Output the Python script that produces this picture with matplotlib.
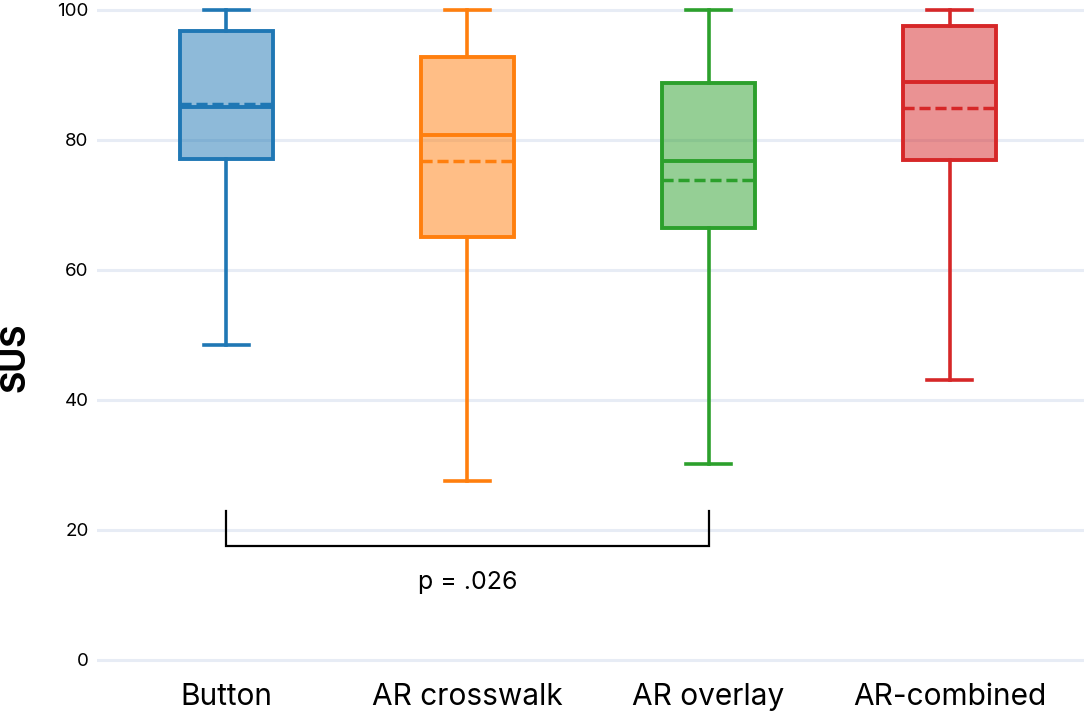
import matplotlib
matplotlib.use("Agg")
import matplotlib.pyplot as plt
from matplotlib.colors import to_rgba
from matplotlib.transforms import Affine2D

categories = ["Button", "AR crosswalk", "AR overlay", "AR-combined"]
lower = [48.5, 27.5, 30.2, 43.1]
q1 = [77.1, 65.1, 66.5, 76.9]
median = [85.1, 80.8, 76.8, 88.9]
q3 = [96.8, 92.7, 88.7, 97.6]
upper = [100, 100, 100, 100]
means = [85.5, 76.8, 73.8, 84.9]
colors = ["#1f77b4", "#ff7f0e", "#2ca02c", "#d62728"]
yticks = [0, 20, 40, 60, 80, 100]
sig_pair = (0, 2)
sig_text = "p = .026"
sig_top, sig_bottom = 23.0, 17.5

plt.rcParams['font.family'] = ['Inter', 'DejaVu Sans']

W, H = 1084, 714
fig = plt.figure(figsize=(W / 100, H / 100), dpi=100)
left_px, right_px = 97, 1084
top_px, bot_px = 0.25, 676.25
ax = fig.add_axes([left_px / W, 1 - bot_px / H, (right_px - left_px) / W, (bot_px - top_px) / H])
ax.set_xlim(-0.535, 3.556)
ax.set_ylim(-2.5, 101.5)

grid_color = "#e7ecf5"
for yt in yticks:
    ax.axhline(yt, color=grid_color, lw=2.2, zorder=0)

for i, c in enumerate(categories):
    st = dict(med=median[i], q1=q1[i], q3=q3[i], whislo=lower[i], whishi=upper[i],
              mean=means[i], fliers=[], label=c)
    ax.bxp([st], positions=[i], widths=0.386, showmeans=True, meanline=True,
           patch_artist=True, showfliers=False, manage_ticks=False,
           boxprops=dict(facecolor=to_rgba(colors[i], 0.5), edgecolor=colors[i], linewidth=2.8),
           medianprops=dict(color=colors[i], linewidth=2.8),
           meanprops=dict(color=colors[i], linewidth=2.5, linestyle=(0, (3.2, 1.4))),
           whiskerprops=dict(color=colors[i], linewidth=2.6),
           capprops=dict(color=colors[i], linewidth=2.6),
           capwidths=0.187, zorder=3)

a, b = sig_pair
ax.plot([a, a, b, b], [sig_top, sig_bottom, sig_bottom, sig_top], color="black", lw=1.6,
        solid_joinstyle="miter", zorder=4)
ax.text((a + b) / 2, sig_bottom - 5.6, sig_text, ha="center", va="center", fontsize=18, color="black")

ax.set_xticks(range(len(categories)))
ax.set_xticklabels(categories, fontsize=21.5)
ax.set_yticks(yticks)
ax.set_yticklabels([str(v) for v in yticks], fontsize=13.5)
ax.tick_params(axis="both", length=0)
ax.tick_params(axis="y", pad=6)
ax.tick_params(axis="x", pad=5)
for s in ax.spines.values():
    s.set_visible(False)

pix = Affine2D().scale(1, -1).translate(0, H)
fig.text(16, 357, "SUS", transform=pix, rotation=90, ha="center", va="center",
         fontsize=24.5, fontweight="bold", color="black")

fig.savefig("out.png", dpi=100)
